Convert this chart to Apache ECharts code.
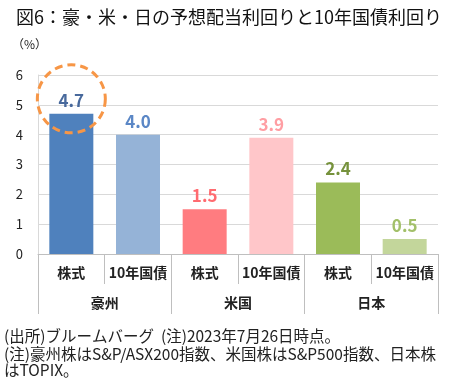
<!DOCTYPE html>
<html><head><meta charset="utf-8">
<script src="https://cdn.jsdelivr.net/npm/echarts@6/dist/echarts.min.js"></script>
<style>html,body{margin:0;padding:0;background:#fff;}#c{width:450px;height:381px;}</style>
</head><body><div id="c"></div>
<script>
const categories = ['株式', '10年国債', '株式', '10年国債', '株式', '10年国債'];
const groups = ['豪州', '米国', '日本'];
const values = [4.7, 4.0, 1.5, 3.9, 2.4, 0.5];
const barColors = ['#4f81bd', '#95b3d7', '#ff7c80', '#ffc6c9', '#9bbb59', '#c3d69b'];
const labelColors = ['#48699c', '#5b87c6', '#ff6b70', '#ff9ea3', '#76923c', '#a3c06a'];
const yTicks = [0, 1, 2, 3, 4, 5, 6];
const highlightIndex = 0;

const FONT = '"Noto Sans CJK JP", sans-serif';
const chart = echarts.init(document.getElementById('c'));
chart.setOption({
  animation: false,
  textStyle: { fontFamily: FONT },
  grid: { left: 38, right: 12, top: 75, bottom: 127, containLabel: false },
  xAxis: [{
    type: 'category', data: categories, position: 'bottom',
    axisLine: { lineStyle: { color: '#bfbfbf' } },
    axisTick: { show: true, length: 30, interval: 0, lineStyle: { color: '#bfbfbf' } },
    axisLabel: { interval: 0, margin: 12, fontSize: 14, fontWeight: 'bold', color: '#222', fontFamily: FONT }
  }, {
    type: 'category', data: groups, position: 'bottom', offset: 30,
    axisLine: { show: false },
    axisTick: { show: true, length: 30, interval: 0, lineStyle: { color: '#bfbfbf' } },
    axisLabel: { interval: 0, margin: 12, fontSize: 14, fontWeight: 'bold', color: '#222', fontFamily: FONT }
  }],
  yAxis: {
    type: 'value', min: yTicks[0], max: yTicks[yTicks.length - 1], interval: 1,
    axisLine: { show: true, lineStyle: { color: '#d9d9d9' } },
    axisTick: { show: false },
    splitLine: { lineStyle: { color: '#d9d9d9' } },
    axisLabel: { fontSize: 13, color: '#222', margin: 15, fontFamily: FONT }
  },
  series: [{
    type: 'bar', xAxisIndex: 0, barWidth: '66%',
    data: values.map((v, i) => ({
      value: v,
      itemStyle: { color: barColors[i] },
      label: { color: labelColors[i] }
    })),
    label: { show: true, position: 'top', distance: 5, fontSize: 17, fontWeight: 'bold',
      formatter: p => p.value.toFixed(1), fontFamily: FONT }
  }]
});
const c = chart.convertToPixel({ xAxisIndex: 0, yAxisIndex: 0 }, [highlightIndex, values[highlightIndex] + 0.5]);
chart.setOption({ graphic: [
  { id: 'title', type: 'text', left: 16, top: 8, style: { text: '図6：豪・米・日の予想配当利回りと10年国債利回り', fill: '#111', font: '18px ' + FONT } },
  { id: 'unit', type: 'text', left: 12, top: 38, style: { text: '（%）', fill: '#222', font: '12px ' + FONT } },
  { id: 'n1', type: 'text', left: 4, top: 328, style: { text: '(出所)ブルームバーグ  (注)2023年7月26日時点。', fill: '#222', font: '15.5px ' + FONT } },
  { id: 'n2', type: 'text', left: 4, top: 346, style: { text: '(注)豪州株はS&P/ASX200指数、米国株はS&P500指数、日本株', fill: '#222', font: '15.5px ' + FONT } },
  { id: 'n3', type: 'text', left: 4, top: 362, style: { text: 'はTOPIX。', fill: '#222', font: '15.5px ' + FONT } },
  { id: 'ring', type: 'circle', shape: { cx: c[0], cy: c[1], r: 34 },
    style: { fill: 'none', stroke: '#f79646', lineWidth: 3, lineDash: [8, 5] }, z: 10 }
] });
</script></body></html>
